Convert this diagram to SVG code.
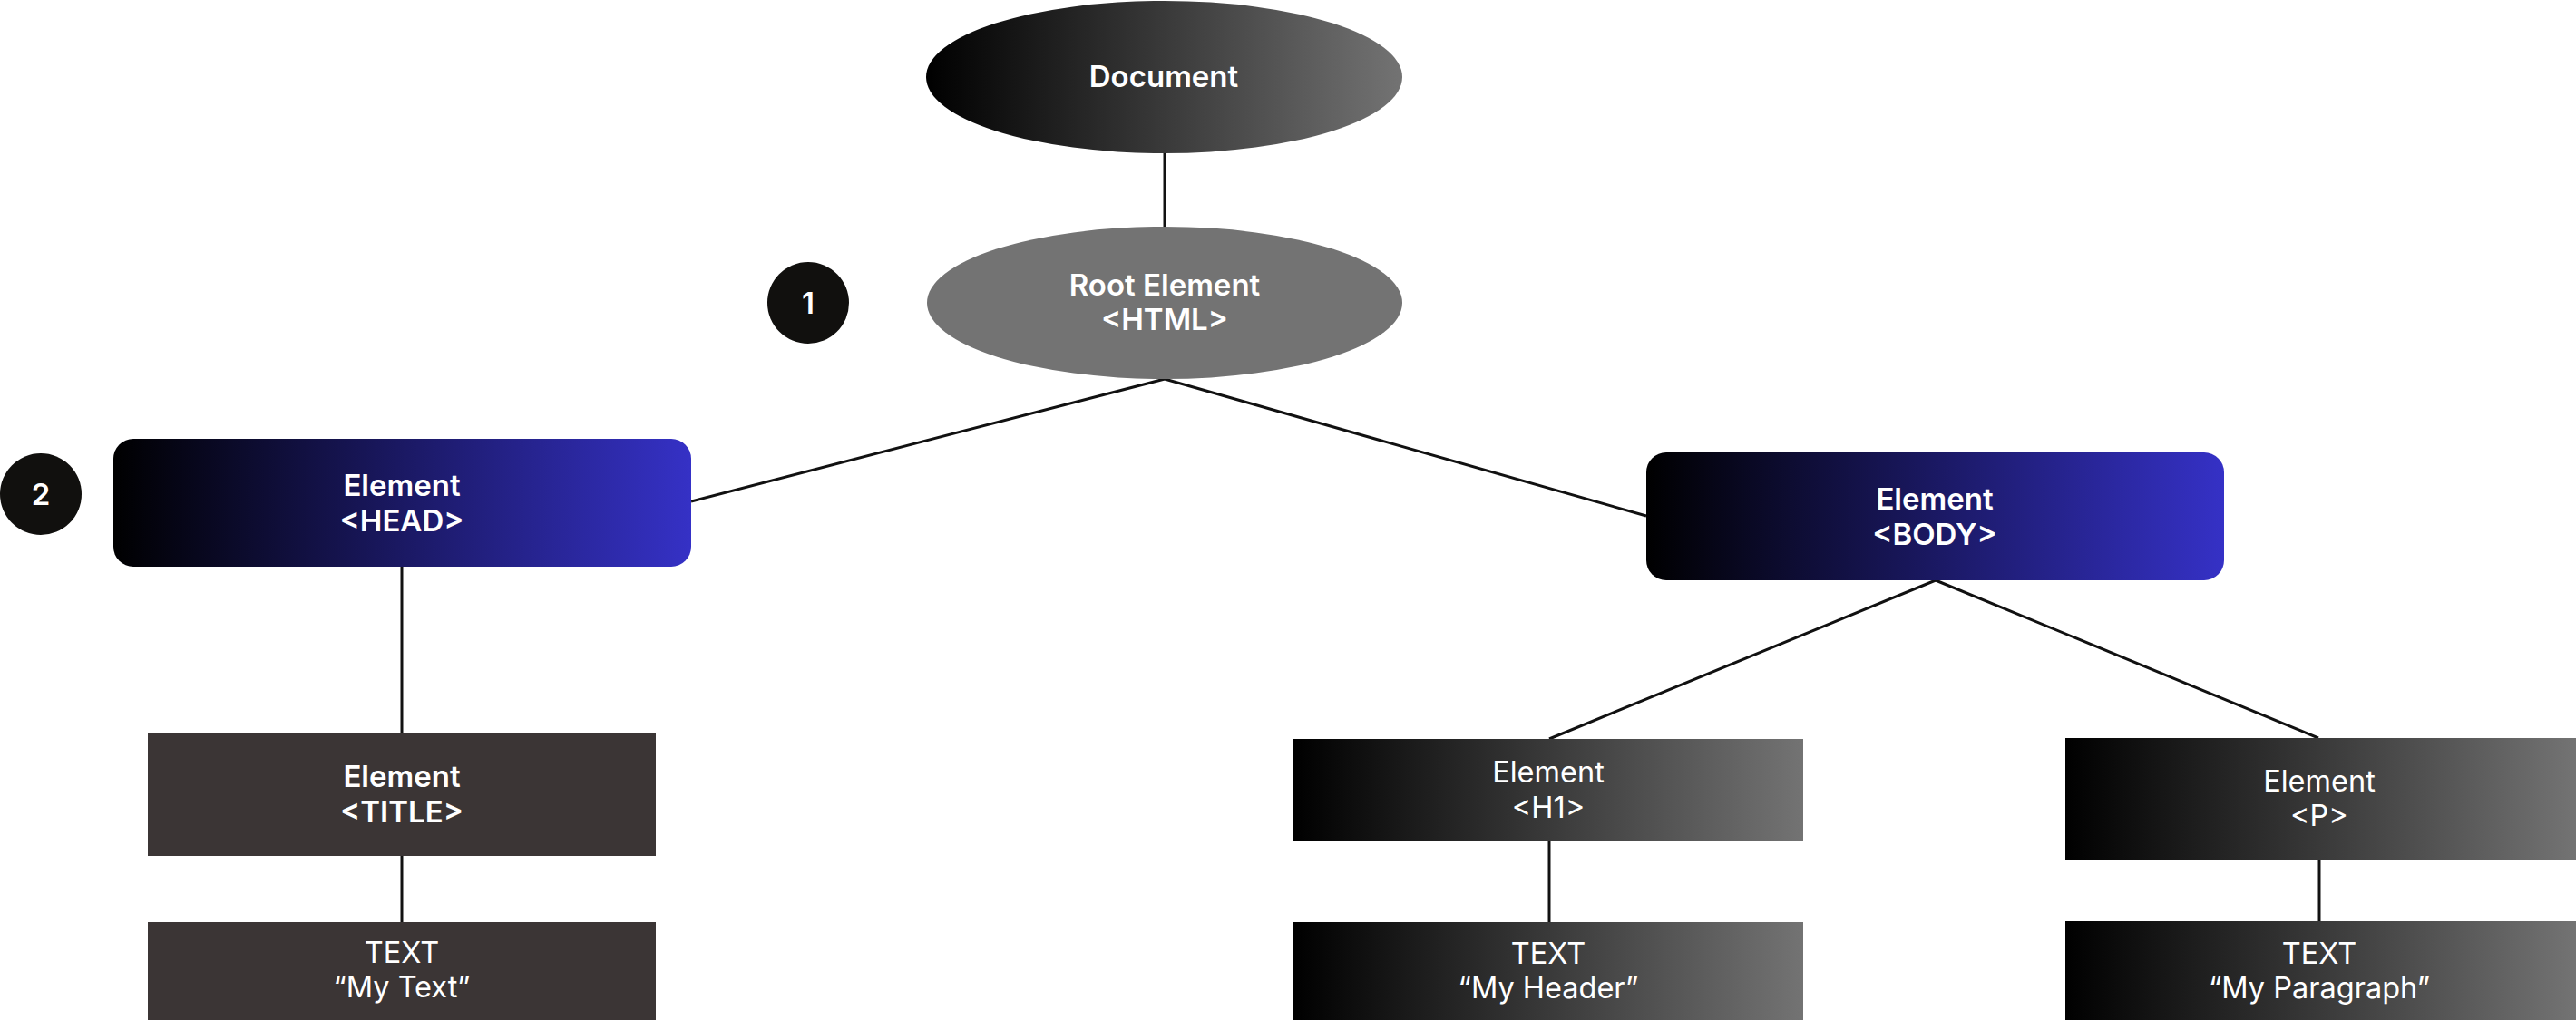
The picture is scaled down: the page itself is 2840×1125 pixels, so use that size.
<svg xmlns="http://www.w3.org/2000/svg" width="2840" height="1125" viewBox="0 0 2840 1125">
<defs>
<linearGradient id="gGray" x1="0" y1="0" x2="1" y2="0">
<stop offset="0" stop-color="#000000"/>
<stop offset="1" stop-color="#737373"/>
</linearGradient>
<linearGradient id="gBlue" x1="0" y1="0" x2="1" y2="0">
<stop offset="0" stop-color="#000000"/>
<stop offset="1" stop-color="#3531c6"/>
</linearGradient>
<style>
.t{font-family:Inter,"Liberation Sans",sans-serif;fill:#ffffff;text-anchor:middle}
.b{font-weight:600;font-size:33px}
.r{font-weight:400;font-size:32.5px}
.edge{stroke:#111111;stroke-width:3;fill:none}
.badge{fill:#11100e}
</style>
</defs>
<rect width="2840" height="1125" fill="#ffffff"/>
<g id="connectors">
<line class="edge" x1="1284" y1="168" x2="1284" y2="250"/>
<line class="edge" x1="1284" y1="418" x2="762" y2="553"/>
<line class="edge" x1="1284" y1="418" x2="1815" y2="569"/>
<line class="edge" x1="443" y1="625" x2="443" y2="809"/>
<line class="edge" x1="443" y1="944" x2="443" y2="1017"/>
<line class="edge" x1="2134" y1="640" x2="1708" y2="815"/>
<line class="edge" x1="2134" y1="640" x2="2556" y2="814"/>
<line class="edge" x1="1708" y1="928" x2="1708" y2="1017"/>
<line class="edge" x1="2557" y1="949" x2="2557" y2="1016"/>
</g>
<g id="document">
<ellipse cx="1283.5" cy="85" rx="262.5" ry="84" fill="url(#gGray)"/>
<text class="t b" x="1283" y="96">Document</text>
</g>
<g id="root">
<ellipse cx="1284" cy="334" rx="262" ry="84" fill="#737373"/>
<text class="t b" x="1284" y="326">Root Element</text>
<text class="t b" x="1284" y="364">&lt;HTML&gt;</text>
</g>
<g id="badge1">
<circle class="badge" cx="891" cy="334" r="45"/>
<text class="t b" x="891" y="346">1</text>
</g>
<g id="badge2">
<circle class="badge" cx="45" cy="545" r="45"/>
<text class="t b" x="45" y="557">2</text>
</g>
<g id="head">
<rect x="125" y="484" width="637" height="141" rx="22" fill="url(#gBlue)"/>
<text class="t b" x="443" y="547">Element</text>
<text class="t b" x="443" y="586">&lt;HEAD&gt;</text>
</g>
<g id="body">
<rect x="1815" y="499" width="637" height="141" rx="22" fill="url(#gBlue)"/>
<text class="t b" x="2133" y="562">Element</text>
<text class="t b" x="2133" y="601">&lt;BODY&gt;</text>
</g>
<g id="title">
<rect x="163" y="809" width="560" height="135" fill="#3b3535"/>
<text class="t b" x="443" y="868">Element</text>
<text class="t b" x="443" y="907">&lt;TITLE&gt;</text>
</g>
<g id="text-title">
<rect x="163" y="1017" width="560" height="108" fill="#3b3535"/>
<text class="t r" x="443" y="1062">TEXT</text>
<text class="t r" x="443" y="1100">“My Text”</text>
</g>
<g id="h1">
<rect x="1426" y="815" width="562" height="113" fill="url(#gGray)"/>
<text class="t r" x="1707" y="863">Element</text>
<text class="t r" x="1707" y="902">&lt;H1&gt;</text>
</g>
<g id="text-h1">
<rect x="1426" y="1017" width="562" height="108" fill="url(#gGray)"/>
<text class="t r" x="1707" y="1063">TEXT</text>
<text class="t r" x="1707" y="1101">“My Header”</text>
</g>
<g id="p">
<rect x="2277" y="814" width="563" height="135" fill="url(#gGray)"/>
<text class="t r" x="2557" y="873">Element</text>
<text class="t r" x="2557" y="911">&lt;P&gt;</text>
</g>
<g id="text-p">
<rect x="2277" y="1016" width="563" height="109" fill="url(#gGray)"/>
<text class="t r" x="2557" y="1063">TEXT</text>
<text class="t r" x="2557" y="1101">“My Paragraph”</text>
</g>
</svg>
